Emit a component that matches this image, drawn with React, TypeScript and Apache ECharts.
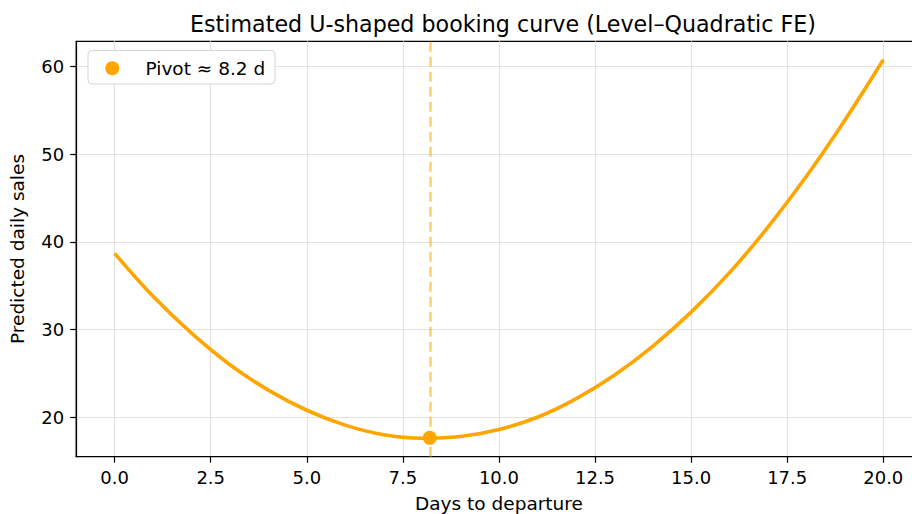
import React, { useEffect, useRef } from "react";
import * as echarts from "echarts";

// Days to departure (x) and predicted daily sales (y)
const days = [0, 1, 2, 3, 4, 5, 6, 7, 8, 9, 10, 11, 12, 13, 14, 15, 16, 17, 18, 19, 20];
const sales = [38.7, 33.8, 29.6, 26.0, 23.1, 20.8, 19.1, 18.0, 17.6, 17.8, 18.6, 20.0, 22.1, 24.8, 28.1, 32.0, 36.5, 41.7, 47.5, 53.9, 60.8];
const pivotDay = 8.2;
const pivotSales = 17.65;
const xTicks = [0, 2.5, 5, 7.5, 10, 12.5, 15, 17.5, 20];
const yTicks = [20, 30, 40, 50, 60];

const titleText = "Estimated U-shaped booking curve (Level\u2013Quadratic FE)";
const legendName = "Pivot \u2248 8.2 d";

export default function App() {
  const ref = useRef<HTMLDivElement>(null);
  useEffect(() => {
    if (!ref.current) return;
    const chart = echarts.init(ref.current, undefined, { renderer: "svg" });
    const font = "DejaVu Sans";
    const curve = days.map((d, i) => [d, sales[i]]);
    chart.setOption({
      animation: false,
      backgroundColor: "#ffffff",
      textStyle: { fontFamily: font },
      title: {
        text: titleText,
        left: 498,
        textAlign: "center",
        top: 8,
        textStyle: { fontFamily: font, fontSize: 22.2, fontWeight: "normal", color: "#000" },
      },
      graphic: [
        {
          type: "rect",
          z: 100,
          zlevel: 0,
          shape: { x: 88, y: 50.5, width: 187, height: 33.5, r: 4 },
          style: { fill: "#ffffff", stroke: "#d5d5d5", lineWidth: 1 },
        },
        {
          type: "circle",
          z: 101,
          shape: { cx: 112.3, cy: 68.3, r: 7 },
          style: { fill: "#FFA500" },
        },
        {
          type: "text",
          z: 101,
          x: 145.5,
          y: 68,
          style: {
            text: legendName,
            fontFamily: font,
            fontSize: 18.5,
            fill: "#000",
            verticalAlign: "middle",
            align: "left",
          },
        },
      ],
      grid: {
        left: 76.2,
        width: 845.5,
        top: 41.3,
        height: 415.4,
        containLabel: false,
        outerBoundsMode: "none",
        show: true,
        borderColor: "#000",
        borderWidth: 1.2,
        backgroundColor: "transparent",
      },
      xAxis: {
        type: "value",
        min: -1,
        max: 21,
        name: "Days to departure",
        nameLocation: "middle",
        nameGap: 37,
        nameTextStyle: { fontFamily: font, fontSize: 18.5, color: "#000" },
        axisLine: { show: true, onZero: false, lineStyle: { color: "#000", width: 1.2 } },
        axisTick: { show: true, length: 6, customValues: xTicks, lineStyle: { color: "#000", width: 1.2 } },
        axisLabel: {
          customValues: xTicks,
          margin: 12,
          fontFamily: font,
          fontSize: 18,
          color: "#000",
          formatter: (v: number) => v.toFixed(1),
        },
        splitLine: { show: true, lineStyle: { color: "#e2e2e2", width: 1.2 } },
      },
      yAxis: {
        type: "value",
        min: 15.5,
        max: 62.9,
        name: "Predicted daily sales",
        nameLocation: "middle",
        nameGap: 49,
        nameTextStyle: { fontFamily: font, fontSize: 18.5, color: "#000" },
        axisLine: { show: true, onZero: false, lineStyle: { color: "#000", width: 1.2 } },
        axisTick: { show: true, length: 6, customValues: yTicks, lineStyle: { color: "#000", width: 1.2 } },
        axisLabel: { customValues: yTicks, margin: 12, fontFamily: font, fontSize: 18, color: "#000" },
        splitLine: { show: true, lineStyle: { color: "#e2e2e2", width: 1.2 } },
      },
      series: [
        {
          type: "line",
          name: "curve",
          data: curve,
          smooth: 0.4,
          showSymbol: false,
          lineStyle: { color: "#FFA500", width: 3.6 },
          itemStyle: { color: "#FFA500" },
          markLine: {
            silent: true,
            symbol: "none",
            label: { show: false },
            lineStyle: { color: "rgba(255,165,0,0.55)", type: [10, 5], width: 2.5 },
            data: [{ xAxis: pivotDay }],
          },
          z: 2,
        },
        {
          type: "scatter",
          name: legendName,
          data: [[pivotDay, pivotSales]],
          symbol: "circle",
          symbolSize: 14,
          itemStyle: { color: "#FFA500", opacity: 1 },
          z: 3,
        },
      ],
    });
    return () => chart.dispose();
  }, []);
  return <div ref={ref} style={{ position: "absolute", left: 0, top: 0, width: 912, height: 514 }} />;
}
